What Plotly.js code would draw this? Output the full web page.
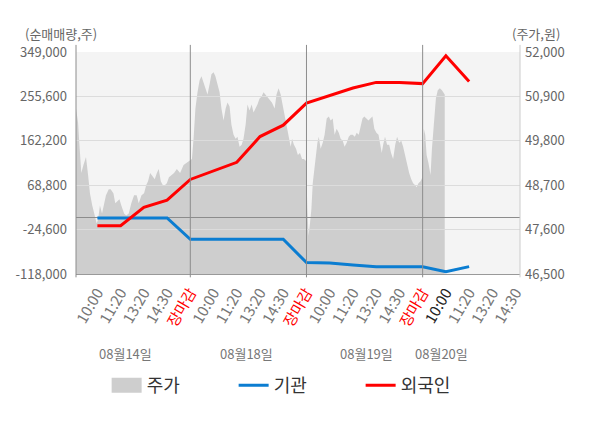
<!DOCTYPE html>
<html>
<head>
<meta charset="utf-8">
<script src="https://cdn.plot.ly/plotly-3.0.1.min.js"></script>
<style>
  body { margin: 0; background: #fff; }
  #chart { width: 600px; height: 428px; }
</style>
</head>
<body>
<div id="chart"></div>
<script>
// x positions: one unit per time label, 5 units per trading day
var times = ['10:00', '11:20', '13:20', '14:30'];
var closeLabel = '장마감';
var dayCount = 4;
var dayLabels = ['08월14일', '08월18일', '08월19일', '08월20일'];
var dayLabelPos = [2.2, 7.4, 12.6, 15.8];

// net buying (shares), points at the time labels
var linePos = [1, 2, 3, 4, 5, 6, 7, 8, 9, 10, 11, 12, 13, 14, 15, 16, 17];
var inst = [0, 0, 0, 0, -45000, -45000, -45000, -45000, -45000, -94000, -95000, -99000, -103000, -103000, -103000, -113000, -102500];
var foreign = [-16300, -16300, 22400, 37200, 80900, 98500, 117000, 171100, 195000, 241500, 258000, 273200, 285100, 285100, 282500, 341000, 286700];

// stock price (won)
var pricePos = [0.08, 0.17, 0.21, 0.28, 0.31, 0.40, 0.51, 0.60, 0.68, 0.78, 0.88, 0.97, 1.03, 1.11, 1.20, 1.29, 1.37, 1.49, 1.57, 1.69,
  1.77, 1.86, 1.95, 2.03, 2.15, 2.24, 2.35, 2.46, 2.58, 2.69, 2.78, 2.90, 3.01, 3.10, 3.18, 3.27, 3.38, 3.47, 3.56, 3.64,
  3.73, 3.82, 3.90, 3.99, 4.08, 4.19, 4.30, 4.42, 4.56, 4.71, 4.85, 4.97, 5.07, 5.14, 5.22, 5.31, 5.40, 5.48, 5.57, 5.65,
  5.74, 5.83, 5.91, 6.00, 6.08, 6.17, 6.26, 6.34, 6.43, 6.52, 6.60, 6.69, 6.77, 6.86, 6.95, 7.03, 7.12, 7.21, 7.29, 7.38,
  7.46, 7.55, 7.64, 7.72, 7.81, 7.89, 7.98, 8.07, 8.15, 8.24, 8.30, 8.37, 8.51, 8.63, 8.71, 8.80, 8.89, 8.97, 9.06, 9.14,
  9.23, 9.32, 9.38, 9.46, 9.55, 9.63, 9.72, 9.81, 9.89, 9.98, 10.04, 10.09, 10.15, 10.21, 10.27, 10.32, 10.38, 10.47, 10.53, 10.61,
  10.70, 10.78, 10.87, 10.96, 11.04, 11.13, 11.21, 11.30, 11.39, 11.47, 11.56, 11.64, 11.73, 11.82, 11.90, 11.99, 12.08, 12.16, 12.25, 12.33,
  12.41, 12.49, 12.58, 12.67, 12.75, 12.84, 12.92, 13.01, 13.10, 13.18, 13.24, 13.30, 13.38, 13.47, 13.56, 13.64, 13.73, 13.82, 13.90, 13.99,
  14.08, 14.16, 14.25, 14.33, 14.42, 14.51, 14.59, 14.68, 14.74, 14.82, 14.91, 14.99, 15.05, 15.11, 15.17, 15.25, 15.34, 15.40, 15.48, 15.57,
  15.65, 15.74, 15.83, 15.95];
var price = [50600, 50250, 49850, 49200, 49000, 49200, 49400, 48950, 48500, 48200, 47950, 47750, 47850, 48200, 48000, 48200, 48450, 48600, 48600, 48500,
  48250, 48300, 48350, 48200, 48000, 47950, 48000, 48250, 48450, 48450, 48250, 48450, 48500, 48700, 48800, 49000, 48900, 48850, 49000, 49100,
  48800, 48700, 48700, 48750, 48900, 48950, 49000, 49100, 49000, 49200, 49250, 49300, 49350, 49850, 50600, 51000, 51300, 51400, 51250, 51100,
  50950, 51200, 51450, 51500, 51400, 51200, 51000, 50600, 50300, 50600, 50750, 50650, 50200, 49950, 49850, 49900, 49650, 49700, 49850, 50200,
  50700, 50550, 50700, 50500, 50600, 50700, 50850, 50900, 51000, 50950, 50900, 50850, 50750, 50600, 50950, 51100, 50950, 50700, 50450, 50200,
  49900, 49650, 49850, 49700, 49600, 49450, 49500, 49350, 49350, 49300, 48100, 47450, 47750, 48100, 48750, 49000, 49350, 49750, 49900, 49600,
  49750, 49950, 50350, 50400, 50300, 50350, 49950, 50100, 50000, 49850, 49800, 49650, 49750, 49900, 49950, 49950, 49900, 50000, 49950, 50200,
  50350, 50400, 50350, 50300, 50350, 50400, 50100, 50000, 49950, 49700, 49500, 49700, 49900, 49700, 49700, 49500, 49350, 49700, 49900, 49750,
  49800, 49650, 49400, 49250, 49000, 48850, 48750, 48700, 48650, 48750, 48800, 48900, 50100, 49950, 49450, 49250, 48950, 49600, 50100, 50850,
  51050, 51100, 51050, 50950];

var volTicks = [-118000, -24600, 68800, 162200, 255600, 349000];
var priceTicks = [46500, 47600, 48700, 49800, 50900, 52000];

var font = '"Noto Sans CJK KR", "Noto Sans", sans-serif';
function fmt(v) { return v.toLocaleString('en-US'); }

// time tick labels
var tickVals = [];
var tickText = [];
var dayBreaks = [];
for (var d = 0; d < dayCount; d++) {
    for (var k = 0; k < times.length; k++) {
        tickVals.push(d * 5 + k + 1);
        if (d == dayCount - 1 && k == 0) {
            tickText.push('<span style="color:#222">' + times[k] + '</span>');
        } else {
            tickText.push(times[k]);
        }
    }
    if (d < dayCount - 1) {
        tickVals.push(d * 5 + 5);
        tickText.push('<span style="color:#ff0000">' + closeLabel + '</span>');
        dayBreaks.push(d * 5 + 5);
    }
}

var trace0 = {
    x: pricePos,
    y: price,
    name: '주가',
    type: 'scatter',
    mode: 'lines',
    line: { width: 0, color: '#cecece' },
    fill: 'tozeroy',
    fillcolor: '#cecece',
    xaxis: 'x',
    yaxis: 'y',
    hoverinfo: 'skip'
};

var trace1 = {
    x: linePos,
    y: inst,
    name: '기관',
    type: 'scatter',
    mode: 'lines',
    line: { width: 3, color: '#0b7dd1' },
    xaxis: 'x2',
    yaxis: 'y2'
};

var trace2 = {
    x: linePos,
    y: foreign,
    name: '외국인',
    type: 'scatter',
    mode: 'lines',
    line: { width: 3, color: '#ff0000' },
    xaxis: 'x2',
    yaxis: 'y2'
};

// plot background as a shape, so the upper subplot does not hide the price area
var shapes = [
    { type: 'rect', xref: 'paper', yref: 'paper', x0: 0, x1: 1, y0: 0, y1: 1,
      fillcolor: '#f4f4f4', line: { width: 0 }, layer: 'below' }
];
dayBreaks.forEach(function (b) {
    shapes.push({ type: 'line', xref: 'x', yref: 'paper', x0: b, x1: b, y0: -0.015, y1: 1.032,
        line: { color: '#8c8c8c', width: 1 }, layer: 'above' });
});
shapes.push({ type: 'line', xref: 'paper', yref: 'paper', x0: 0, x1: 0, y0: -0.015, y1: 1.032,
    line: { color: '#8c8c8c', width: 1 }, layer: 'above' });
shapes.push({ type: 'line', xref: 'paper', yref: 'paper', x0: 1, x1: 1, y0: -0.015, y1: 1.032,
    line: { color: '#cccccc', width: 1 }, layer: 'above' });

var annotations = [
    { text: '(순매매량,주)', xref: 'paper', yref: 'paper', x: -0.034, y: 1.085, xanchor: 'center', yanchor: 'middle',
      showarrow: false, font: { family: font, size: 13, color: '#666' } },
    { text: '(주가,원)', xref: 'paper', yref: 'paper', x: 1.035, y: 1.085, xanchor: 'center', yanchor: 'middle',
      showarrow: false, font: { family: font, size: 13, color: '#666' } }
];
dayLabels.forEach(function (t, i) {
    annotations.push({ text: t, xref: 'x', yref: 'paper', x: dayLabelPos[i], y: -0.356, xanchor: 'center', yanchor: 'middle',
        showarrow: false, font: { family: font, size: 13, color: '#777' } });
});

var layout = {
    width: 600,
    height: 428,
    margin: { l: 76, r: 80, t: 52, b: 154 },
    paper_bgcolor: '#ffffff',
    plot_bgcolor: 'rgba(0,0,0,0)',
    font: { family: font, size: 13, color: '#666' },
    showlegend: true,
    legend: {
        orientation: 'h',
        x: 0.069, xanchor: 'left',
        y: -0.502, yanchor: 'middle',
        entrywidth: 82,
        entrywidthmode: 'pixels',
        font: { family: font, size: 18, color: '#333' },
        bgcolor: 'rgba(0,0,0,0)'
    },
    xaxis: {
        range: [0.08, 19.19],
        tickvals: tickVals,
        ticktext: tickText,
        tickangle: -60,
        tickfont: { family: font, size: 15, color: '#777' },
        showgrid: false,
        zeroline: false,
        showline: true,
        linecolor: '#999',
        ticks: '',
        ticklabelstandoff: 3,
        fixedrange: true
    },
    yaxis: {
        side: 'right',
        range: [46500, 52000],
        tickvals: priceTicks,
        ticktext: priceTicks.map(fmt),
        tickfont: { family: font, size: 13, color: '#666' },
        showgrid: false,
        zeroline: false,
        ticks: '',
        ticklabelstandoff: 4,
        fixedrange: true
    },
    xaxis2: {
        matches: 'x',
        anchor: 'y2',
        visible: false,
        fixedrange: true
    },
    yaxis2: {
        anchor: 'x2',
        side: 'left',
        range: [-118000, 349000],
        tickvals: volTicks,
        ticktext: volTicks.map(fmt),
        tickfont: { family: font, size: 13, color: '#666' },
        showgrid: true,
        gridcolor: '#dcdcdc',
        zeroline: true,
        zerolinecolor: '#8c8c8c',
        zerolinewidth: 1,
        ticks: '',
        ticklabelstandoff: 8,
        fixedrange: true
    },
    shapes: shapes,
    annotations: annotations
};

var config = {
    staticPlot: true,
    displayModeBar: false
};

Plotly.newPlot('chart', [trace0, trace1, trace2], layout, config).then(function () {
    // the price legend swatch is a full box in the original, not a thin strip
    document.querySelectorAll('#chart .legendfill path').forEach(function (p) {
        p.setAttribute('d', 'M5,-7.5h30v15h-30z');
    });
});
</script>
</body>
</html>
